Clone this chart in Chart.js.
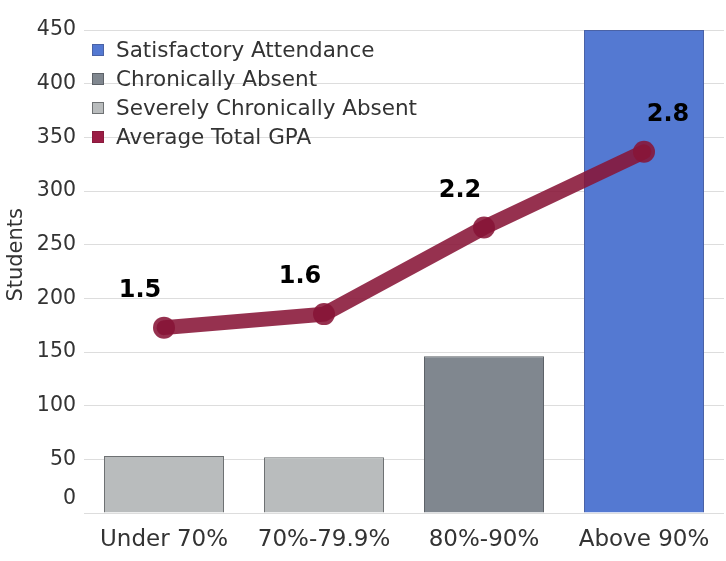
<!DOCTYPE html>
<html>
<head>
<meta charset="utf-8">
<script src="https://cdn.jsdelivr.net/npm/chart.js@4"></script>
<style>
    html, body { margin: 0; padding: 0; background: #fff; }
    #wrap { position: relative; width: 726px; height: 561px; }
    #legend {
        position: absolute; left: 92px; top: 35px; margin: 0; padding: 0;
        list-style: none; font-family: "DejaVu Sans", sans-serif; font-size: 21.5px; color: #333;
    }
    #legend li { display: flex; align-items: center; height: 29px; }
    #legend span.box { width: 12px; height: 12px; margin-right: 12px; box-sizing: border-box; }
</style>
</head>
<body>
<div id="wrap">
    <canvas id="chart"></canvas>
    <ul id="legend"></ul>
</div>
<script>
    'use strict';

    // Attendance bands on the x axis.
    const categories = ['Under 70%', '70%-79.9%', '80%-90%', 'Above 90%'];

    // Student counts per band, split by which attendance group the band belongs to.
    const satisfactory = [null, null, null, 450];
    const chronic = [null, null, 146, null];
    const severe = [53, 52, null, null];

    // Average total GPA per band (right-hand, hidden scale).
    const gpa = [1.5, 1.6, 2.24, 2.8];

    const yTicks = [0, 50, 100, 150, 200, 250, 300, 350, 400, 450];

    const FONT = '"DejaVu Sans", sans-serif';
    const TEXT = '#333333';

    // Writes the GPA value above each point; the last one sits to the right of its point.
    const gpaLabels = {
        id: 'gpaLabels',
        afterDatasetsDraw: function (chart) {
            const meta = chart.getDatasetMeta(3);
            const ctx = chart.ctx;
            ctx.save();
            ctx.font = 'bold 24px ' + FONT;
            ctx.fillStyle = '#000';
            ctx.textAlign = 'center';
            ctx.textBaseline = 'middle';
            meta.data.forEach(function (pt, i) {
                const dx = i === meta.data.length - 1 ? 24 : -24;
                ctx.fillText(gpa[i].toFixed(1), pt.x + dx, pt.y - 37);
            });
            ctx.restore();
        },
    };

    const chart = new Chart(document.getElementById('chart'), {
        data: {
            labels: categories,
            datasets: [
                {
                    type: 'bar', label: 'Satisfactory Attendance', data: satisfactory,
                    backgroundColor: '#5479d2', borderColor: '#4a62a6', borderWidth: 1, grouped: false, order: 1,
                },
                {
                    type: 'bar', label: 'Chronically Absent', data: chronic,
                    backgroundColor: '#80878f', borderColor: '#5d6268', borderWidth: 1, grouped: false, order: 1,
                },
                {
                    type: 'bar', label: 'Severely Chronically Absent', data: severe,
                    backgroundColor: '#b9bcbd', borderColor: '#6e7173', borderWidth: 1, grouped: false, order: 1,
                },
                {
                    type: 'line', label: 'Average Total GPA', data: gpa, yAxisID: 'y1', order: 0,
                    borderColor: 'rgba(135, 20, 55, 0.88)', backgroundColor: 'rgba(135, 20, 55, 0.88)',
                    borderWidth: 15, pointRadius: 11, pointHoverRadius: 11, pointBorderWidth: 0,
                    borderCapStyle: 'round', tension: 0,
                },
            ],
        },
        options: {
            responsive: true,
            maintainAspectRatio: false,
            animation: false,
            layout: { autoPadding: false, padding: { top: 30, right: 2, left: 0, bottom: 0 } },
            datasets: { bar: { barPercentage: 0.75, categoryPercentage: 1 } },
            plugins: {
                legend: { display: false },
                tooltip: { enabled: false },
            },
            scales: {
                x: {
                    grid: { display: false },
                    border: { display: false },
                    ticks: { color: TEXT, font: { family: FONT, size: 23 }, padding: 5, maxRotation: 0 },
                    afterFit: function (scale) {
                        scale.height = 48;
                        scale.paddingLeft = 0;
                        scale.paddingRight = 0;
                    },
                },
                y: {
                    min: 0,
                    max: 450,
                    afterBuildTicks: function (scale) {
                        scale.ticks = yTicks.map(function (v) { return { value: v }; });
                    },
                    ticks: {
                        color: TEXT,
                        autoSkip: false,
                        font: { family: FONT, size: 20.5, lineHeight: 1.35 },
                        padding: 8,
                        // the zero label is lifted off the baseline in the original
                        callback: function (v) { return v === 0 ? ['0', ''] : String(v); },
                    },
                    grid: { color: '#dddddd', drawTicks: false },
                    border: { display: false },
                    title: {
                        display: true, text: '     Students', color: TEXT,
                        font: { family: FONT, size: 21 }, padding: { top: 4, bottom: 0 },
                    },
                    afterFit: function (scale) { scale.width = 84; },
                },
                y1: {
                    display: false,
                    min: 0.13,
                    max: 3.7,
                },
            },
        },
        plugins: [gpaLabels],
    });

    // legend sits inside the plot, top-left, one entry per row
    const legendEl = document.getElementById('legend');
    chart.data.datasets.forEach(function (ds) {
        const li = document.createElement('li');
        const box = document.createElement('span');
        box.className = 'box';
        box.style.background = ds.type === 'line' ? '#9b1d45' : ds.backgroundColor;
        box.style.border = '1px solid ' + (ds.type === 'line' ? '#8a1a3d' : ds.borderColor);
        li.appendChild(box);
        li.appendChild(document.createTextNode(ds.label));
        legendEl.appendChild(li);
    });
</script>
</body>
</html>
